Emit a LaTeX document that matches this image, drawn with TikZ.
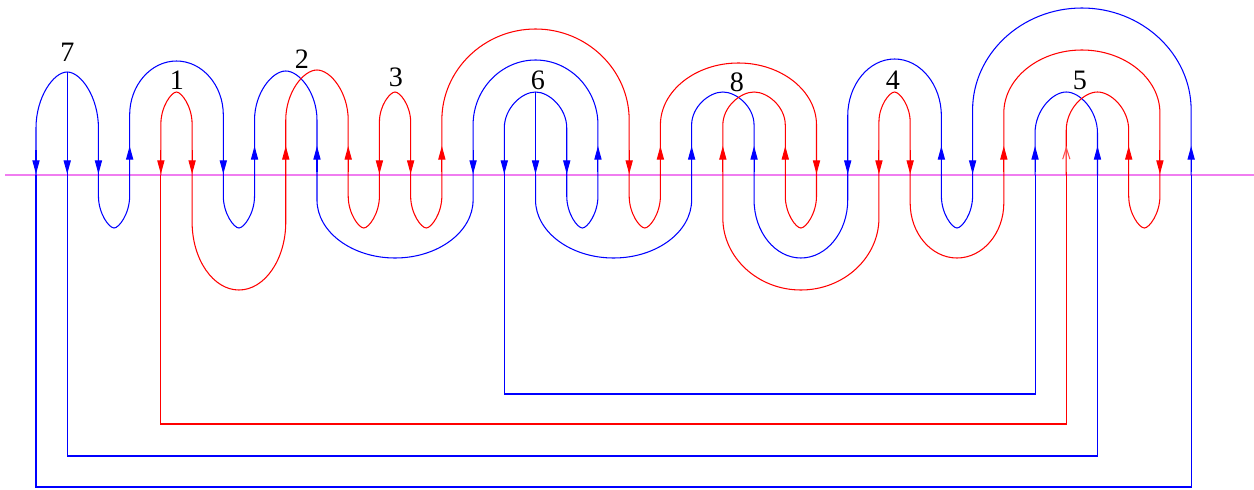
\documentclass[tikz,border=0pt]{standalone}
\usepackage{fontspec}
\setmainfont{Liberation Serif}
\usetikzlibrary{arrows.meta}
\definecolor{axiscol}{RGB}{240,125,240}
\begin{document}
\begin{tikzpicture}[x=0.02cm, y=-0.02cm,
  wire/.style={line width=0.6pt},
  axis/.style={draw=axiscol, line width=1.1pt},
  tip/.style={wire, -{Triangle[length=7.8pt,width=4.1pt]}},
  opentip/.style={wire, -{Straight Barb[length=6.5pt,width=4.1pt]}},
  num/.style={font=\fontsize{16}{19}\selectfont, inner sep=0pt}
]
  \useasboundingbox (0,0) rectangle (1254,490);

  % the axis
  \draw[axis] (5,175) -- (1254,175);

  % caps over and under the axis: left col / right col / end of straight part / turning point / colour
  \foreach \a/\b/\v/\t/\c in {
      0/2/128/72/blue, 3/6/115/61/blue, 4/5/124/92/red, 7/9/120/71/blue,
      8/10/120/70/red, 11/12/122/92/red, 13/19/120/29/red, 14/18/125/60/blue,
      15/17/128/92/blue, 20/25/125/63/red, 21/23/125/92/blue, 22/24/125/92/red,
      26/29/116/59/blue, 27/28/122/92/red, 30/37/110/8/blue, 31/36/113/50/red,
      32/34/133/92/blue, 33/35/130/92/red,
      2/3/196/228/blue, 5/8/222/290/red, 6/7/196/228/blue, 9/14/200/258/blue,
      10/11/196/228/red, 12/13/196/228/red, 16/21/200/258/blue, 17/18/196/228/blue,
      19/20/196/228/red, 22/27/218/290/red, 23/26/200/258/blue, 24/25/196/228/red,
      28/31/203/258/red, 29/30/196/228/blue, 35/36/196/228/red}{
    \pgfmathsetmacro{\xa}{36+31.22*\a}
    \pgfmathsetmacro{\xb}{36+31.22*\b}
    \pgfmathsetmacro{\xm}{(\xa+\xb)/2}
    \pgfmathsetmacro{\hw}{(\xb-\xa)/2*min(0.55,0.2+0.12*(\b-\a))}
    \pgfmathsetmacro{\hv}{(\t-\v)*0.55}
    \draw[wire,\c] (\xa,175) -- (\xa,\v)
      .. controls (\xa,\v+\hv) and (\xm-\hw,\t) .. (\xm,\t)
      .. controls (\xm+\hw,\t) and (\xb,\v+\hv) .. (\xb,\v) -- (\xb,175);
  }

  % long returns below
  \foreach \a/\b/\y/\c in {0/37/487/blue, 1/34/456/blue, 4/33/424/red, 15/32/394/blue}{
    \pgfmathsetmacro{\xa}{36+31.22*\a}
    \pgfmathsetmacro{\xb}{36+31.22*\b}
    \draw[wire,\c] (\xa,175) |- (\xb,\y) -- (\xb,175);
  }

  % strands starting at a cap
  \draw[wire,blue] (67.2,72) -- (67.2,175);
  \draw[wire,blue] (535.5,92) -- (535.5,175);

  % arrow heads
  \foreach \i/\c in {0/blue, 1/blue, 2/blue, 4/red, 5/red, 6/blue, 11/red, 12/red,
      14/blue, 15/blue, 16/blue, 17/blue, 19/red, 25/red, 26/blue, 27/red,
      28/red, 30/blue, 36/red}{
    \pgfmathsetmacro{\xa}{36+31.22*\i}
    \draw[tip,\c] (\xa,150) -- (\xa,174);
  }
  \foreach \i/\c in {3/blue, 7/blue, 8/red, 9/blue, 10/red, 13/red, 18/blue, 20/red,
      21/blue, 22/red, 23/blue, 24/red, 29/blue, 31/red, 32/blue, 34/blue,
      35/red, 37/blue}{
    \pgfmathsetmacro{\xa}{36+31.22*\i}
    \draw[tip,\c] (\xa,172) -- (\xa,146);
  }
  \draw[opentip,red!70] (1066.3,172) -- (1066.3,146);

  % strand numbers
  \node[num] (n7) at (67.5,52) {7};
  \node[num] (n1) at (177,80) {1};
  \node[num] (n2) at (302,59) {2};
  \node[num] (n3) at (396,77) {3};
  \node[num] (n6) at (538,80) {6};
  \node[num] (n8) at (737,82) {8};
  \node[num] (n4) at (893,80) {4};
  \node[num] (n5) at (1080,80) {5};
\end{tikzpicture}
\end{document}
